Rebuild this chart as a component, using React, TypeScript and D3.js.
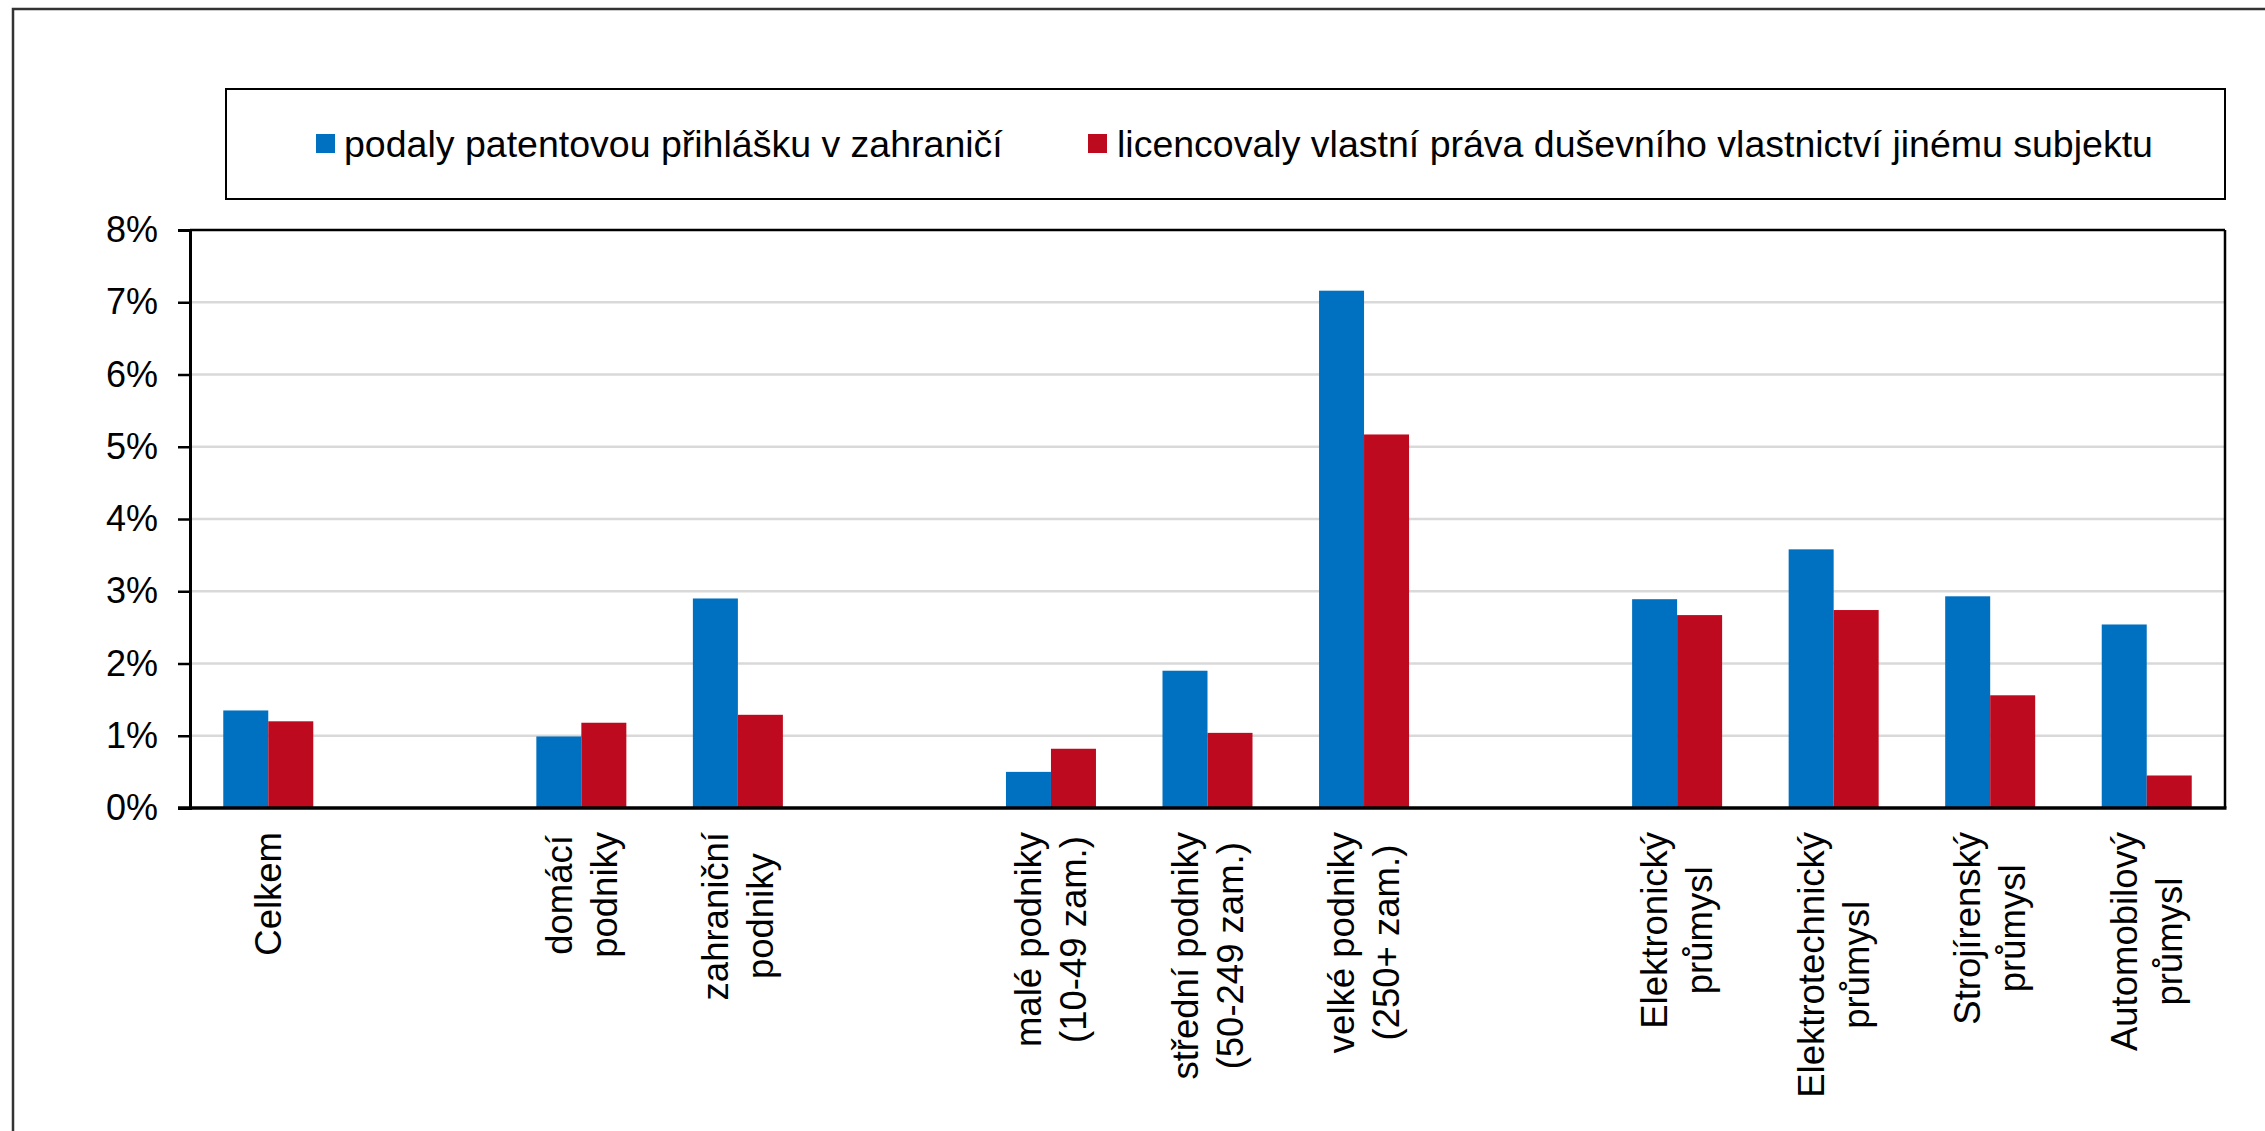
import React, { useEffect, useRef } from "react";
import * as d3 from "d3";

const categories: string[] = [
  "Celkem",
  "",
  "domácí\npodniky",
  "zahraniční\npodniky",
  " ",
  "malé podniky\n(10-49 zam.)",
  "střední podniky\n(50-249 zam.)",
  "velké podniky\n(250+ zam.)",
  "  ",
  "Elektronický\nprůmysl",
  "Elektrotechnický\nprůmysl",
  "Strojírenský\nprůmysl",
  "Automobilový\nprůmysl",
];

const seriesNames: string[] = [
  "podaly patentovou přihlášku v zahraničí",
  "licencovaly vlastní práva duševního vlastnictví jinému subjektu",
];

const patentValues: (number | null)[] = [1.35, null, 0.99, 2.9, null, 0.5, 1.9, 7.16, null, 2.89, 3.58, 2.93, 2.54];
const licenceValues: (number | null)[] = [1.2, null, 1.18, 1.29, null, 0.82, 1.04, 5.17, null, 2.67, 2.74, 1.56, 0.45];

const yTicks: number[] = [0, 1, 2, 3, 4, 5, 6, 7, 8];
const colors: string[] = ["#0070C0", "#BE0A1E"];

const W = 2265;
const H = 1131;
const FONT = "'Liberation Sans', Arial, sans-serif";

export default function App() {
  const ref = useRef<SVGSVGElement | null>(null);

  useEffect(() => {
    const svg = d3.select(ref.current);
    svg.selectAll("*").remove();

    const left = 190, right = 2225, top = 230, bottom = 808;

    const x = d3.scaleBand<string>().domain(categories).range([left, right]).paddingInner(0).paddingOuter(0);
    const y = d3.scaleLinear().domain([0, 8]).range([bottom, top]);
    const barW = 45;

    svg.append("rect").attr("width", W).attr("height", H).attr("fill", "#fff");

    // outer border
    svg.append("rect").attr("x", 13).attr("y", 9).attr("width", W + 50).attr("height", H + 50)
      .attr("fill", "none").attr("stroke", "#333").attr("stroke-width", 2.5);

    // legend box
    svg.append("rect").attr("x", 226).attr("y", 89).attr("width", 2225 - 226).attr("height", 110)
      .attr("fill", "#fff").attr("stroke", "#000").attr("stroke-width", 2);
    const legendItems = [
      { mx: 316, tx: 344 },
      { mx: 1088, tx: 1117 },
    ];
    legendItems.forEach((li, i) => {
      svg.append("rect").attr("x", li.mx).attr("y", 134).attr("width", 19).attr("height", 19).attr("fill", colors[i]);
      svg.append("text").attr("x", li.tx).attr("y", 143.5).attr("dy", "0.35em")
        .attr("font-family", FONT).attr("font-size", 37.5).attr("fill", "#000").text(seriesNames[i]);
    });

    // gridlines
    svg.append("g").selectAll("line").data(yTicks.filter((t) => t > 0 && t < 8)).join("line")
      .attr("x1", left).attr("x2", right).attr("y1", (d) => y(d)).attr("y2", (d) => y(d))
      .attr("stroke", "#d9d9d9").attr("stroke-width", 2.5);

    // bars
    const series = [patentValues, licenceValues];
    series.forEach((vals, si) => {
      svg.append("g").selectAll("rect").data(categories.map((c, i) => ({ c, v: vals[i] })).filter((d) => d.v !== null))
        .join("rect")
        .attr("x", (d) => (x(d.c) as number) + x.bandwidth() / 2 - barW + si * barW)
        .attr("y", (d) => y(d.v as number))
        .attr("width", barW)
        .attr("height", (d) => bottom - y(d.v as number))
        .attr("fill", colors[si]);
    });

    // plot frame
    svg.append("line").attr("x1", left).attr("x2", right).attr("y1", top).attr("y2", top).attr("stroke", "#000").attr("stroke-width", 2.5);
    svg.append("line").attr("x1", right).attr("x2", right).attr("y1", top).attr("y2", bottom).attr("stroke", "#000").attr("stroke-width", 2.5);

    // y axis
    const yAxis = d3.axisLeft(y).tickValues(yTicks).tickSize(12).tickPadding(20).tickFormat((d) => `${d}%`);
    const gy = svg.append("g").attr("transform", `translate(${left},0)`).call(yAxis);
    gy.select(".domain").attr("stroke", "#000").attr("stroke-width", 3);
    gy.selectAll(".tick line").attr("stroke", "#000").attr("stroke-width", 2.5);
    gy.selectAll(".tick text").attr("font-family", FONT).attr("font-size", 36).attr("fill", "#000");

    // x axis line
    svg.append("line").attr("x1", left - 12).attr("x2", right + 1.5).attr("y1", bottom).attr("y2", bottom)
      .attr("stroke", "#000").attr("stroke-width", 3.5);

    // category labels
    const labelTop = 832;
    const lineGap = 45;
    categories.forEach((c) => {
      if (!c.trim()) return;
      const lines = c.split("\n");
      const cx = (x(c) as number) + x.bandwidth() / 2;
      const g = svg.append("g");
      const texts = lines.map((ln) =>
        g.append("text").attr("font-family", FONT).attr("font-size", 36.5).attr("fill", "#000")
          .attr("text-anchor", "middle").attr("dy", "0.35em").text(ln)
      );
      const maxLen = d3.max(texts, (t) => (t.node() as SVGTextElement).getComputedTextLength()) || 0;
      const cy = labelTop + maxLen / 2;
      texts.forEach((t, i) => {
        const lx = cx + (i - (lines.length - 1) / 2) * lineGap;
        t.attr("transform", `translate(${lx},${cy}) rotate(-90)`);
      });
    });
  }, []);

  return (
    <div style={{ position: "absolute", left: 0, top: 0, width: W, height: H, overflow: "hidden" }}>
      <svg ref={ref} width={W} height={H} />
    </div>
  );
}
